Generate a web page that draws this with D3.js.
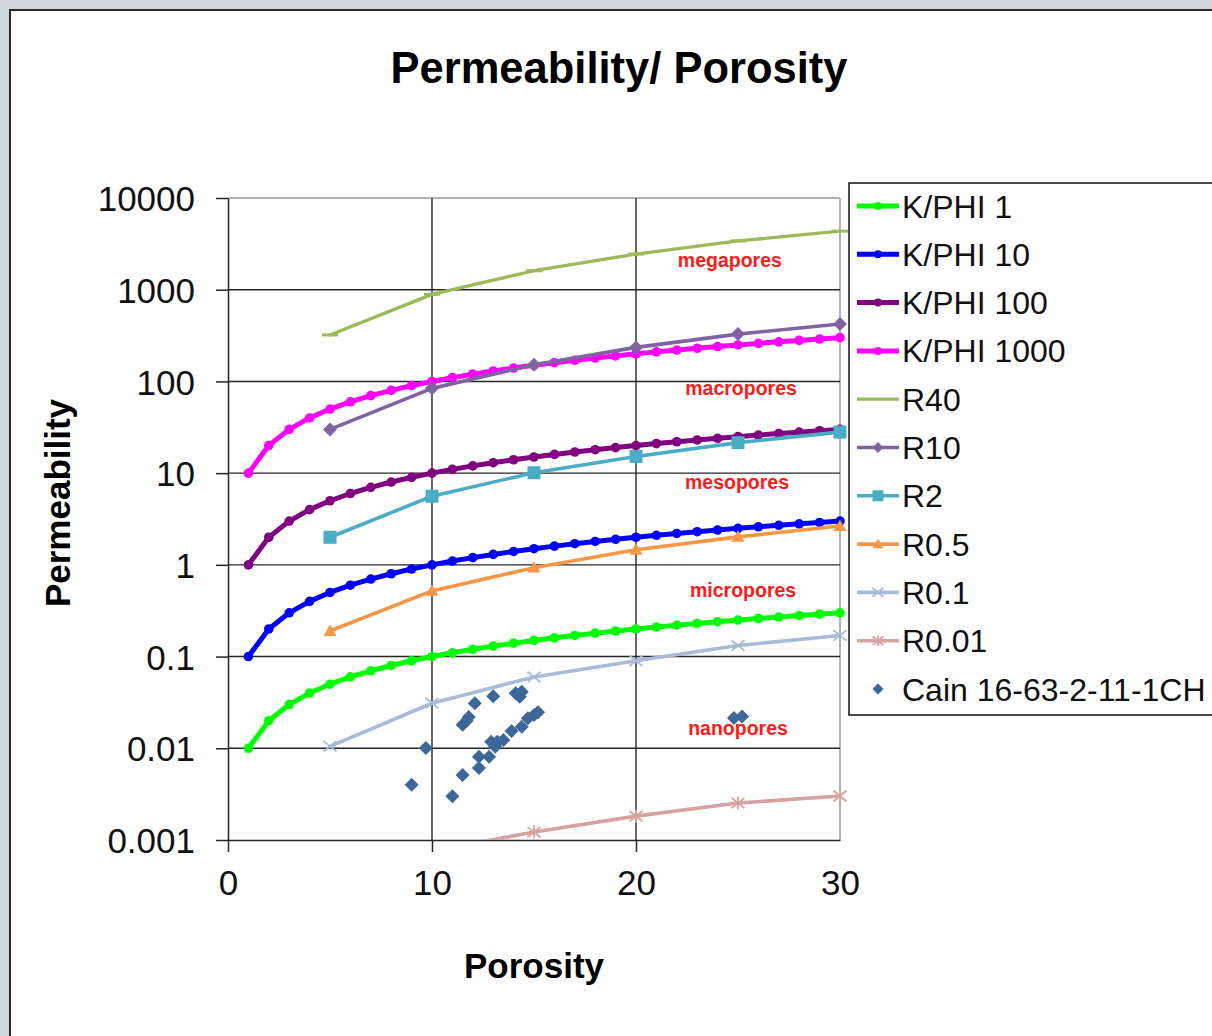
<!DOCTYPE html>
<html>
<head>
<meta charset="utf-8">
<script src="https://cdn.jsdelivr.net/npm/d3@7"></script>
<style>
  html, body { margin: 0; padding: 0; background: #cfd6de; }
  svg { display: block; }
  text { font-family: "Liberation Sans", Arial, sans-serif; }
</style>
</head>
<body>
<svg id="chart" width="1212" height="1036"></svg>
<script>
// ---- data ----
const porosity = [1,2,3,4,5,6,7,8,9,10,11,12,13,14,15,16,17,18,19,20,21,22,23,24,25,26,27,28,29,30];
const kphi1 = [0.01,0.02,0.03,0.04,0.05,0.06,0.07,0.08,0.09,0.10,0.11,0.12,0.13,0.14,0.15,0.16,0.17,0.18,0.19,0.20,0.21,0.22,0.23,0.24,0.25,0.26,0.27,0.28,0.29,0.30];
const kphi10 = [0.1,0.2,0.3,0.4,0.5,0.6,0.7,0.8,0.9,1.0,1.1,1.2,1.3,1.4,1.5,1.6,1.7,1.8,1.9,2.0,2.1,2.2,2.3,2.4,2.5,2.6,2.7,2.8,2.9,3.0];
const kphi100 = [1,2,3,4,5,6,7,8,9,10,11,12,13,14,15,16,17,18,19,20,21,22,23,24,25,26,27,28,29,30];
const kphi1000 = [10,20,30,40,50,60,70,80,90,100,110,120,130,140,150,160,170,180,190,200,210,220,230,240,250,260,270,280,290,300];

const porosityR = [5,10,15,20,25,30];
const r40 = [321, 890, 1610, 2450, 3400, 4350];
const r10 = [30, 84, 152, 235, 328, 423];
const r2 = [2.0, 5.6, 10.1, 15.2, 21.5, 28];
const r05 = [0.19, 0.52, 0.93, 1.46, 2.02, 2.65];
const r01 = [0.0105, 0.031, 0.060, 0.090, 0.132, 0.170];
const r001 = [0.00024, 0.00076, 0.00122, 0.00182, 0.00253, 0.00302];

const cainPorosity = [9.0, 9.7, 11.0, 11.5, 11.5, 11.7, 11.8, 12.1, 12.3, 12.3, 12.8, 12.9, 13.0, 13.1, 13.2, 13.5, 13.9, 14.1, 14.3, 14.4, 14.4, 14.7, 15.0, 15.2, 24.8, 25.2];
const cainPerm = [0.0040, 0.0101, 0.0030, 0.0051, 0.018, 0.020, 0.022, 0.031, 0.0061, 0.0081, 0.0081, 0.0118, 0.037, 0.0104, 0.0118, 0.0123, 0.0154, 0.0397, 0.0365, 0.0414, 0.0172, 0.0212, 0.0231, 0.0247, 0.0214, 0.0222];

const yTickValues = [0.001, 0.01, 0.1, 1, 10, 100, 1000, 10000];
const yTickLabels = ["0.001", "0.01", "0.1", "1", "10", "100", "1000", "10000"];
const xTickValues = [0, 10, 20, 30];

const zoneLabels = ["megapores", "macropores", "mesopores", "micropores", "nanopores"];
const zoneAnchors = [[24.6, 1770], [25.15, 71], [24.95, 6.7], [25.25, 0.446], [25.0, 0.0140]];

// ---- series styling ----
const series = [
  { name: "K/PHI 1",    x: porosity,  y: kphi1,    color: "#00ff00", width: 5, marker: "circle",   size: 4.8 },
  { name: "K/PHI 10",   x: porosity,  y: kphi10,   color: "#0000ff", width: 5, marker: "circle",   size: 4.8 },
  { name: "K/PHI 100",  x: porosity,  y: kphi100,  color: "#800080", width: 5, marker: "circle",   size: 4.8 },
  { name: "K/PHI 1000", x: porosity,  y: kphi1000, color: "#ff00ff", width: 5, marker: "circle",   size: 4.8 },
  { name: "R40",        x: porosityR, y: r40,      color: "#9bbb59", width: 3.3, marker: "dash",     size: 8 },
  { name: "R10",        x: porosityR, y: r10,      color: "#8064a2", width: 3.6, marker: "diamond",  size: 7 },
  { name: "R2",         x: porosityR, y: r2,       color: "#4bacc6", width: 3.6, marker: "square",   size: 6.5 },
  { name: "R0.5",       x: porosityR, y: r05,      color: "#f79646", width: 3.6, marker: "triangle", size: 6.5 },
  { name: "R0.1",       x: porosityR, y: r01,      color: "#a9bbd9", width: 3.6, marker: "x",        size: 6.5 },
  { name: "R0.01",      x: porosityR, y: r001,     color: "#d6a3a2", width: 3.6, marker: "star",     size: 6.5 },
  { name: "Cain 16-63-2-11-1CH", x: cainPorosity, y: cainPerm, color: "#3d6799", width: 0, marker: "diamond", size: 7 }
];

// ---- layout ----
const svg = d3.select("#chart");
const plot = { left: 228, right: 840, top: 198, bottom: 840 };

const x = d3.scaleLinear().domain([0, 30]).range([plot.left, plot.right]);
const y = d3.scaleLog().domain([0.001, 10000]).range([plot.bottom, plot.top]);

// panel
svg.append("rect").attr("x", 0).attr("y", 0).attr("width", 1212).attr("height", 1036).attr("fill", "#cfd6de");
svg.append("rect").attr("x", 10).attr("y", 10).attr("width", 1240).attr("height", 1060)
  .attr("fill", "#ffffff").attr("stroke", "#2a2a2a").attr("stroke-width", 2);

// title
svg.append("text").attr("x", 619).attr("y", 83).attr("text-anchor", "middle")
  .attr("font-size", 43.5).attr("font-weight", "bold").attr("fill", "#000")
  .text("Permeability/ Porosity");

// plot border (top & right) in grey
svg.append("line").attr("x1", x(0)).attr("x2", x(30)).attr("y1", y(10000)).attr("y2", y(10000))
  .attr("stroke", "#9a9a9a").attr("stroke-width", 1.5);
svg.append("line").attr("x1", x(30)).attr("x2", x(30)).attr("y1", y(10000)).attr("y2", y(0.001))
  .attr("stroke", "#9a9a9a").attr("stroke-width", 1.5);

// gridlines
const grid = svg.append("g").attr("stroke", "#262626").attr("stroke-width", 1.4);
grid.selectAll("line.h").data(yTickValues.filter(v => v > 0.001 && v < 10000)).enter()
  .append("line").attr("x1", x(0)).attr("x2", x(30)).attr("y1", d => y(d)).attr("y2", d => y(d));
grid.selectAll("line.v").data(xTickValues.filter(v => v > 0 && v < 30)).enter()
  .append("line").attr("y1", y(10000)).attr("y2", y(0.001)).attr("x1", d => x(d)).attr("x2", d => x(d));

// axes
const yAxis = d3.axisLeft(y).tickValues(yTickValues)
  .tickFormat((d, i) => yTickLabels[i]).tickSize(12).tickSizeOuter(0).tickPadding(21);
const gy = svg.append("g").attr("transform", `translate(${plot.left},0)`).call(yAxis);
gy.selectAll("text").attr("font-size", 35).attr("fill", "#111")
  .attr("font-family", '"Liberation Sans", Arial, sans-serif').attr("dy", "0.36em");
gy.selectAll("line, path").attr("stroke", "#262626").attr("stroke-width", 1.5);

const xAxis = d3.axisBottom(x).tickValues(xTickValues).tickFormat(d3.format("d"))
  .tickSize(12).tickSizeOuter(0).tickPadding(18);
const gx = svg.append("g").attr("transform", `translate(0,${plot.bottom})`).call(xAxis);
gx.selectAll("text").attr("font-size", 35).attr("fill", "#111")
  .attr("font-family", '"Liberation Sans", Arial, sans-serif');
gx.selectAll("line, path").attr("stroke", "#262626").attr("stroke-width", 1.5);
gx.selectAll(".tick").filter(d => d === 30).select("line").remove();

// axis titles
svg.append("text").attr("transform", "translate(70,503) rotate(-90)").attr("text-anchor", "middle")
  .attr("font-size", 35).attr("font-weight", "bold").attr("fill", "#000").text("Permeability");
svg.append("text").attr("x", 534).attr("y", 978).attr("text-anchor", "middle")
  .attr("font-size", 35).attr("font-weight", "bold").attr("fill", "#000").text("Porosity");

// clip for data
svg.append("clipPath").attr("id", "plotClip").append("rect")
  .attr("x", plot.left - 10).attr("y", plot.top - 10)
  .attr("width", plot.right - plot.left + 20).attr("height", plot.bottom - plot.top + 10);

// marker drawing
function drawMarker(g, type, s, color) {
  if (type === "circle") {
    g.append("circle").attr("r", s).attr("fill", color);
  } else if (type === "diamond") {
    g.append("path").attr("d", `M0,${-s}L${s},0L0,${s}L${-s},0Z`).attr("fill", color);
  } else if (type === "square") {
    g.append("rect").attr("x", -s).attr("y", -s).attr("width", 2 * s).attr("height", 2 * s).attr("fill", color);
  } else if (type === "triangle") {
    g.append("path").attr("d", `M0,${-s}L${s},${s * 0.75}L${-s},${s * 0.75}Z`).attr("fill", color);
  } else if (type === "x") {
    g.append("path").attr("d", `M${-s},${-s * 0.8}L${s},${s * 0.8}M${-s},${s * 0.8}L${s},${-s * 0.8}`)
      .attr("stroke", color).attr("stroke-width", 1.8).attr("fill", "none");
  } else if (type === "star") {
    g.append("path").attr("d", `M${-s},${-s * 0.8}L${s},${s * 0.8}M${-s},${s * 0.8}L${s},${-s * 0.8}M0,${-s}L0,${s}`)
      .attr("stroke", color).attr("stroke-width", 1.8).attr("fill", "none");
  } else if (type === "dash") {
    g.append("path").attr("d", `M${-s},0L${s},0`).attr("stroke", color).attr("stroke-width", 3);
  }
}

// series
const dataLayer = svg.append("g").attr("clip-path", "url(#plotClip)");
series.forEach(s => {
  const pts = s.x.map((v, i) => [v, s.y[i]]);
  const g = dataLayer.append("g");
  if (s.width > 0) {
    g.append("path").datum(pts)
      .attr("d", d3.line().x(d => x(d[0])).y(d => y(d[1])))
      .attr("fill", "none").attr("stroke", s.color).attr("stroke-width", s.width)
      .attr("stroke-linejoin", "round").attr("stroke-linecap", "round");
  }
  pts.filter(d => d[1] >= 0.001).forEach(d => {
    const mg = g.append("g").attr("transform", `translate(${x(d[0])},${y(d[1])})`);
    drawMarker(mg, s.marker, s.size, s.color);
  });
});

// zone labels
svg.selectAll("text.zone").data(zoneLabels).enter().append("text")
  .attr("class", "zone")
  .attr("x", (d, i) => x(zoneAnchors[i][0]))
  .attr("y", (d, i) => y(zoneAnchors[i][1]))
  .attr("text-anchor", "middle").attr("font-size", 19.5).attr("font-weight", "bold")
  .attr("fill", "#ff1a1a").text(d => d);

// legend
const legend = svg.append("g");
legend.append("rect").attr("x", 849).attr("y", 183).attr("width", 400).attr("height", 532)
  .attr("fill", "#fff").attr("stroke", "#111").attr("stroke-width", 1.5);
series.forEach((s, i) => {
  const cy = 206 + i * 48.3;
  const row = legend.append("g").attr("transform", `translate(0,${cy})`);
  if (s.width > 0) {
    row.append("line").attr("x1", 857).attr("x2", 899).attr("y1", 0).attr("y2", 0)
      .attr("stroke", s.color).attr("stroke-width", s.width);
  }
  const mg = row.append("g").attr("transform", "translate(878,0)");
  if (s.marker !== "dash") drawMarker(mg, s.marker, s.marker === "circle" ? 4 : 5.5, s.color);
  row.append("text").attr("x", 902).attr("y", 0).attr("dy", "0.36em")
    .attr("font-size", 32).attr("fill", "#111").text(s.name);
});
</script>
</body>
</html>
